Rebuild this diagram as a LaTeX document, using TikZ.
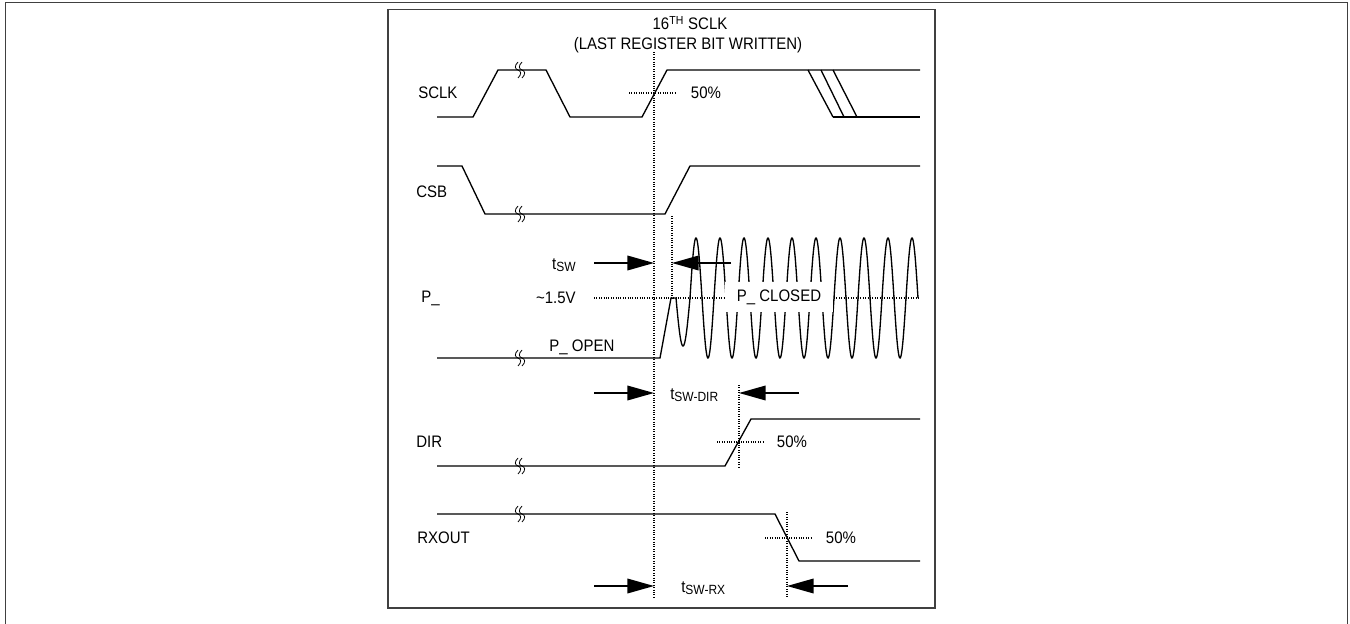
\documentclass[tikz,border=0pt]{standalone}
\usepackage{fontspec}
\setmainfont{Liberation Sans}[FakeStretch=0.9]
\usetikzlibrary{arrows.meta}
\begin{document}
\begin{tikzpicture}[x=0.75pt,y=-0.75pt,
  wave/.style={line width=1pt, line join=miter},
  dots/.style={line width=0.8pt, densely dotted},
  lbl/.style={inner sep=0pt, font=\fontsize{12.5}{14}\selectfont},
  dimarrow/.style={line width=1.1pt, -{Triangle[length=20pt,width=11pt]}},
  frame/.style={line width=1.4pt, black!75},
  brk/.pic={\draw[line width=0.6pt] (-2,-8) .. controls (-6,-4) and (-5,-1) .. (-2,0) .. controls (1,1) and (2,4) .. (-2,8);
            \draw[line width=0.6pt] (2,-8) .. controls (-2,-4) and (-1,-1) .. (2,0) .. controls (5,1) and (6,4) .. (2,8);},
]
\useasboundingbox (0,0) rectangle (1350,624);
% frames
\draw[frame] (5.5,640) -- (5.5,2.5) -- (1347.5,2.5) -- (1347.5,640);
\draw[frame] (388,9.5) rectangle (935,608);

% titles
\node[lbl] (t16) at (690,23) {16\textsuperscript{TH} SCLK};
\node[lbl] (tlast) at (688,45) {(LAST REGISTER BIT WRITTEN)};

% dotted reference lines
\coordinate (mtop) at (654,52); \coordinate (mbot) at (654,598);
\draw[dots] (mtop) -- (mbot);
\draw[dots] (672,216) -- (672,298);
\draw[dots] (739,385) -- (739,467);
\draw[dots] (787,512) -- (787,598);
\draw[dots] (629,93) -- (676,93);
\draw[dots] (717,442) -- (763,442);
\draw[dots] (765,538) -- (811,538);
\draw[dots] (594,298) -- (920,298);

% SCLK
\node[lbl, anchor=west] (sclk) at (418,93) {SCLK};
\draw[wave] (437,117) -- (473,117) -- (498,70) -- (546,70) -- (570,117) -- (642,117) -- (667,70) -- (920,70);
\draw[wave] (808,70) -- (833,117);
\draw[wave] (821,70) -- (844,117);
\draw[wave] (833,70) -- (857,117);
\draw[wave] (833,117) -- (920,117);
\pic at (520,70) {brk};
\node[lbl] (p50a) at (706,93) {50\%};

% CSB
\node[lbl, anchor=west] (csb) at (416,192) {CSB};
\draw[wave] (437,166) -- (462,166) -- (485,214) -- (665,214) -- (690,166) -- (920,166);
\pic at (520,214) {brk};

% P_
\node[lbl, anchor=west] (pl) at (421,298) {P\_};
\node[lbl, anchor=east] (v15) at (576,298) {\textasciitilde1.5V};
\node[lbl, anchor=east] (tsw) at (576,265) {t\raisebox{-1.5pt}{\fontsize{10}{11}\selectfont SW}};
\draw[wave] (437,358) -- (660,358) -- (671,298) -- (676,298)
  -- plot[domain=0:14,samples=30] ({676+\x},{298+48*sin(\x*180/14)})
  -- plot[domain=0:228,samples=460] ({690+\x},{298-60*sin(\x*15)});
\pic at (520,358) {brk};
\node[lbl] (popen) at (582,347) {P\_ OPEN};
\node[lbl, fill=white, minimum width=81pt, minimum height=23pt] (pclosed) at (779,297) {P\_ CLOSED};
\draw[dimarrow] (594,263) -- (654,263);
\draw[dimarrow] (731,263) -- (672,263);

% tSW-DIR
\draw[dimarrow] (594,393) -- (654,393);
\draw[dimarrow] (799,393) -- (739,393);
\node[lbl, anchor=west] (tswdir) at (670,395) {t\raisebox{-1.5pt}{\fontsize{10}{11}\selectfont SW-DIR}};

% DIR
\node[lbl, anchor=west] (dir) at (416,442) {DIR};
\draw[wave] (437,466) -- (725,466) -- (751,419) -- (920,419);
\pic at (520,466) {brk};
\node[lbl] (p50b) at (792,442) {50\%};

% RXOUT
\node[lbl, anchor=west] (rxout) at (417,538) {RXOUT};
\draw[wave] (437,514) -- (775,514) -- (799,561) -- (920,561);
\pic at (520,514) {brk};
\node[lbl] (p50c) at (841,538) {50\%};

% tSW-RX
\draw[dimarrow] (594,586) -- (654,586);
\draw[dimarrow] (848,586) -- (787,586);
\node[lbl, anchor=west] (tswrx) at (681,588) {t\raisebox{-1.5pt}{\fontsize{10}{11}\selectfont SW-RX}};
\end{tikzpicture}
\end{document}
